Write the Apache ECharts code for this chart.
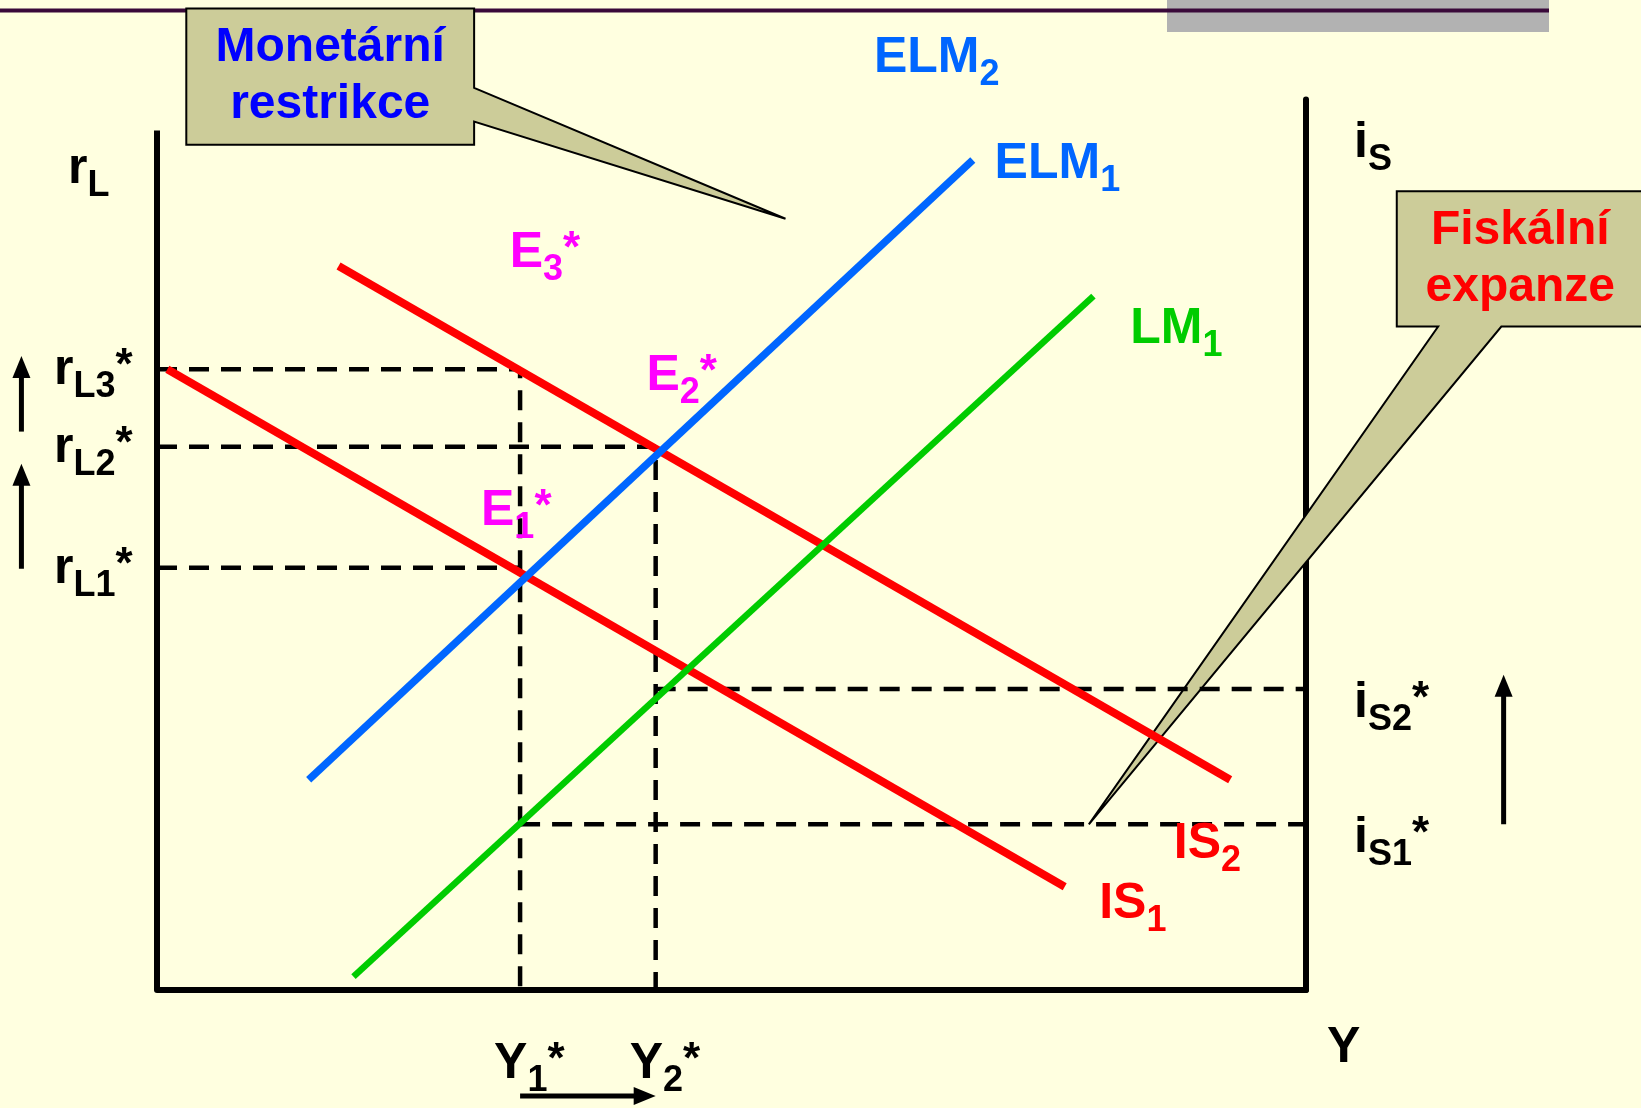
<!DOCTYPE html>
<html lang="cs">
<head>
<meta charset="UTF-8">
<title>IS-ELM</title>
<style>
  html, body { margin: 0; padding: 0; background: #ffffe0; }
  #chart { width: 1641px; height: 1108px; }
</style>
</head>
<body>
<div id="chart"></div>
<script src="https://cdn.jsdelivr.net/npm/echarts@6/dist/echarts.min.js"></script>
<script>
// equilibrium levels (x: output 0..100, y: rate 0..100)
var Y1 = 31.6, Y2 = 43.4;
var rL = [47.4, 61.0, 69.7];      // rL1*, rL2*, rL3*
var iS = [18.6, 33.8];            // iS1*, iS2*

// curve end points
var IS1 = [[0.9, 69.7], [79.0, 11.6]];
var IS2 = [[15.8, 81.3], [93.4, 23.6]];
var LM1 = [[17.1, 1.5], [81.5, 77.9]];
var ELM1 = [[13.2, 23.6], [71.0, 93.2]];
var leftAxisTop = 96.5;

// dashed guide lines built from the levels
var guides = [
  [[0, rL[2]], [Y1, rL[2]], [Y1, 0]],
  [[0, rL[1]], [Y2, rL[1]], [Y2, 0]],
  [[0, rL[0]], [Y1, rL[0]]],
  [[Y2, iS[1]], [100, iS[1]]],
  [[Y1, iS[0]], [100, iS[0]]]
];

// curve names: text, subscript, star, colour, [left, baseline]
var curveLabels = [
  ['ELM', '2', false, '#0066ff', [62.4, 103.1]],
  ['ELM', '1', false, '#0066ff', [72.9, 91.2]],
  ['LM', '1', false, '#00cc00', [84.7, 72.6]],
  ['E', '3', true, '#ff00ff', [30.7, 81.2]],
  ['E', '2', true, '#ff00ff', [42.6, 67.4]],
  ['E', '1', true, '#ff00ff', [28.2, 52.2]],
  ['IS', '2', false, '#ff0000', [88.5, 14.8]],
  ['IS', '1', false, '#ff0000', [82.0, 8.1]]
];

// arrows [x1, y1, x2(tip), y2(tip)]
var arrows = [
  [-11.8, 62.7, -11.8, 71.2],
  [-11.8, 47.3, -11.8, 59.1],
  [117.2, 18.6, 117.2, 35.4],
  [31.6, -11.9, 43.4, -11.9]
];

// callout boxes: box [x0, yTop, x1, yBottom], tail [base, tip, base]
var callouts = [
  { box: [2.55, 110.2, 27.6, 94.9], tail: [[27.6, 101.3], [54.7, 86.6], [27.6, 97.5]], side: 'right',
    text: 'Monetární\nrestrikce', color: '#0000ff' },
  { box: [107.9, 89.7, 129.4, 74.5], tail: [[117.0, 74.5], [81.1, iS[0]], [111.5, 74.5]], side: 'bottom',
    text: 'Fiskální\nexpanze', color: '#ff0000' }
];

var FONT = "'Liberation Sans', Arial, Helvetica, sans-serif";
var DROP = 21; // main baseline -> bottom of label box

function richFor(color) {
  return {
    b: { fontFamily: FONT, fontWeight: 'bold', fontSize: 50, lineHeight: 50, color: color, verticalAlign: 'bottom', padding: [0, 0, 10, 0] },
    s: { fontFamily: FONT, fontWeight: 'bold', fontSize: 36, lineHeight: 60, color: color, verticalAlign: 'bottom' },
    t: { fontFamily: FONT, fontWeight: 'bold', fontSize: 44, lineHeight: 44, color: color, verticalAlign: 'top' }
  };
}
function fmt(main, sub, star) {
  return '{b|' + main + '}' + (sub ? '{s|' + sub + '}' : '') + (star ? '{t|*}' : '');
}
function labelItem(x, y, dx, dy, text, color) {
  return {
    value: [x, y],
    label: { formatter: text, rich: richFor(color), offset: [dx, dy + DROP] }
  };
}

var labels = [];
curveLabels.forEach(function (c) {
  labels.push(labelItem(c[4][0], c[4][1], 0, 0, fmt(c[0], c[1], c[2]), c[3]));
});
rL.forEach(function (v, i) {
  labels.push(labelItem(0, v, -103, 15, fmt('r', 'L' + (i + 1), true), '#000'));
});
iS.forEach(function (v, i) {
  labels.push(labelItem(100, v, 48, 28, fmt('i', 'S' + (i + 1), true), '#000'));
});
[Y1, Y2].forEach(function (v, i) {
  labels.push(labelItem(v, 0, -26, 88, fmt('Y', String(i + 1), true), '#000'));
});
labels.push(labelItem(0, leftAxisTop, -89, 53, fmt('r', 'L', false), '#000'));
labels.push(labelItem(100, 100, 48, 58, fmt('i', 'S', false), '#000'));
labels.push(labelItem(100, 0, 21, 72, fmt('Y', '', false), '#000'));

var series = [];

series.push({
  type: 'custom', z: 2, clip: false, silent: true,
  data: callouts.map(function (c, i) { return [c.box[0], c.box[1], i]; }),
  renderItem: function (params, api) {
    var c = callouts[params.dataIndex];
    var b = c.box;
    var pts = c.side === 'right'
      ? [[b[0], b[1]], [b[2], b[1]], c.tail[0], c.tail[1], c.tail[2], [b[2], b[3]], [b[0], b[3]]]
      : [[b[0], b[1]], [b[2], b[1]], [b[2], b[3]], c.tail[0], c.tail[1], c.tail[2], [b[0], b[3]]];
    var px = pts.map(function (p) { return api.coord(p); });
    var ctr = api.coord([(b[0] + b[2]) / 2, (b[1] + b[3]) / 2]);
    return {
      type: 'group',
      children: [
        { type: 'polygon', shape: { points: px }, style: { fill: '#cccc99', stroke: '#000', lineWidth: 2 } },
        { type: 'text', style: { text: c.text, x: ctr[0], y: ctr[1], align: 'center', verticalAlign: 'middle',
          fill: c.color, font: 'bold 48px ' + FONT, lineHeight: 57 } }
      ]
    };
  }
});

guides.forEach(function (g) {
  series.push({
    type: 'line', data: g, z: 2, symbol: 'none', silent: true,
    lineStyle: { color: '#000', width: 4.5, type: [20, 12] }
  });
});

series.push({
  type: 'line', data: [[0, 0], [0, leftAxisTop]], z: 2, symbol: 'none', silent: true,
  lineStyle: { color: '#000', width: 6 }
});

[[IS1, '#ff0000', 8], [IS2, '#ff0000', 8], [LM1, '#00cc00', 6.5], [ELM1, '#0066ff', 7.5]].forEach(function (s) {
  series.push({
    type: 'line', data: s[0], z: 3, symbol: 'none', silent: true,
    lineStyle: { color: s[1], width: s[2], cap: 'butt' }
  });
});

series.push({
  type: 'custom', z: 4, clip: false, silent: true,
  data: arrows,
  renderItem: function (params, api) {
    var p1 = api.coord([api.value(0), api.value(1)]);
    var p2 = api.coord([api.value(2), api.value(3)]);
    var dx = p2[0] - p1[0], dy = p2[1] - p1[1];
    var len = Math.sqrt(dx * dx + dy * dy);
    var ux = dx / len, uy = dy / len;
    var L = 22, W = 18;
    var bx = p2[0] - ux * L, by = p2[1] - uy * L;
    return {
      type: 'group',
      children: [
        { type: 'line', shape: { x1: p1[0], y1: p1[1], x2: bx + ux * 2, y2: by + uy * 2 }, style: { stroke: '#000', lineWidth: 5 } },
        { type: 'polygon', shape: { points: [[p2[0], p2[1]], [bx - uy * W / 2, by + ux * W / 2], [bx + uy * W / 2, by - ux * W / 2]] },
          style: { fill: '#000' } }
      ]
    };
  }
});

series.push({
  type: 'scatter', z: 5, clip: false, silent: true,
  symbolSize: 1, itemStyle: { color: 'rgba(0,0,0,0)', opacity: 1 },
  label: { show: true, position: 'inside', align: 'left', verticalAlign: 'bottom', opacity: 1 },
  data: labels
});

var chart = echarts.init(document.getElementById('chart'));
chart.setOption({
  animation: false,
  backgroundColor: '#ffffe0',
  grid: { left: 157, top: 99.4, width: 1149, height: 890.6 },
  xAxis: {
    type: 'value', min: 0, max: 100,
    axisLine: { show: true, onZero: false, lineStyle: { color: '#000', width: 6 } },
    axisTick: { show: false }, axisLabel: { show: false }, splitLine: { show: false }
  },
  yAxis: [
    { type: 'value', min: 0, max: 100, axisLine: { show: false, onZero: false },
      axisTick: { show: false }, axisLabel: { show: false }, splitLine: { show: false } },
    { type: 'value', position: 'right', min: 0, max: 100,
      axisLine: { show: true, onZero: false, lineStyle: { color: '#000', width: 6 } },
      axisTick: { show: false }, axisLabel: { show: false }, splitLine: { show: false } }
  ],
  graphic: [
    { type: 'rect', shape: { x: 1167, y: 0, width: 382, height: 32 }, style: { fill: '#b2b2b2' } },
    { type: 'rect', shape: { x: 0, y: 8.5, width: 1549, height: 4 }, style: { fill: '#3a0a3a' } }
  ],
  series: series
});
</script>
</body>
</html>
